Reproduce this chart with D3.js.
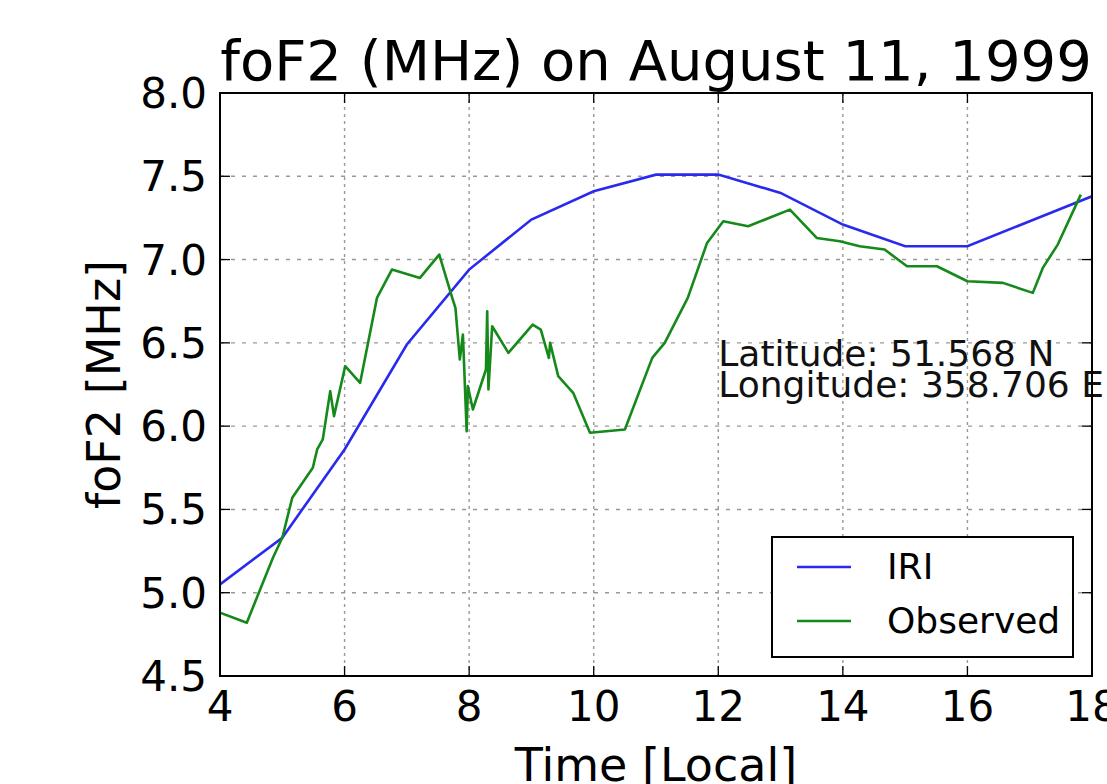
<!DOCTYPE html>
<html>
<head>
<meta charset="utf-8">
<script src="https://cdn.jsdelivr.net/npm/d3@7"></script>
<style>
  body { margin: 0; background: #fff; }
  svg { display: block; font-family: "DejaVu Sans", sans-serif; }
</style>
</head>
<body>
<div id="chart"></div>
<script>
// IRI model, hourly
var iriTime  = [4, 5, 6, 7, 8, 9, 10, 11, 12, 13, 14, 15, 16, 17, 18];
var iriValue = [5.05, 5.33, 5.86, 6.49, 6.94, 7.24, 7.41, 7.51, 7.51, 7.40, 7.21, 7.08, 7.08, 7.23, 7.38];

// observed foF2
var obsTime  = [4.0, 4.43, 4.85, 5.0, 5.16, 5.49, 5.56, 5.65, 5.77, 5.83, 6.01, 6.25, 6.52, 6.76, 7.21, 7.52,
                7.72, 7.78, 7.85, 7.90, 7.96, 7.98, 8.06, 8.27, 8.29, 8.31, 8.37, 8.63, 9.02, 9.15, 9.28, 9.30,
                9.43, 9.67, 9.94, 10.5, 10.94, 11.14, 11.51, 11.82, 12.08, 12.48, 13.15, 13.58, 13.95, 14.27,
                14.67, 15.03, 15.51, 16.0, 16.57, 17.05, 17.21, 17.45, 17.82];
var obsValue = [4.88, 4.82, 5.21, 5.33, 5.57, 5.75, 5.86, 5.92, 6.21, 6.06, 6.36, 6.26, 6.77, 6.94, 6.89, 7.03,
                6.78, 6.71, 6.40, 6.55, 5.97, 6.24, 6.10, 6.34, 6.69, 6.22, 6.60, 6.44, 6.61, 6.58, 6.41, 6.50,
                6.30, 6.20, 5.96, 5.98, 6.41, 6.50, 6.77, 7.10, 7.23, 7.20, 7.30, 7.13, 7.11, 7.08,
                7.06, 6.96, 6.96, 6.87, 6.86, 6.80, 6.95, 7.09, 7.39];

var xTicks = [4, 6, 8, 10, 12, 14, 16, 18];
var yTicks = [4.5, 5.0, 5.5, 6.0, 6.5, 7.0, 7.5, 8.0];
var seriesNames = ["IRI", "Observed"];
var infoLines = ["Latitude: 51.568 N", "Longitude: 358.706 E"];
var titleText = "foF2 (MHz) on August 11, 1999";

function drawChart() {
  var W = 1107, H = 784;
  var pl = 220, pr = 1092, pt = 93, pb = 676;

  var svg = d3.select("#chart").append("svg")
      .attr("width", W)
      .attr("height", H);

  var x = d3.scaleLinear().domain([4, 18]).range([pl, pr]);
  var y = d3.scaleLinear().domain([4.5, 8]).range([pb, pt]);

  svg.append("clipPath").attr("id", "plotclip")
    .append("rect")
      .attr("x", pl).attr("y", pt)
      .attr("width", pr - pl).attr("height", pb - pt);

  // grid (dotted, like matplotlib "k:")
  var grid = svg.append("g").attr("class", "grid");
  grid.selectAll(".vg")
      .data(xTicks.slice(1, -1))
      .enter().append("line")
      .attr("x1", function(d) { return x(d); })
      .attr("x2", function(d) { return x(d); })
      .attr("y1", pt).attr("y2", pb)
      .attr("stroke", "#999").attr("stroke-width", 1.4)
      .attr("stroke-dasharray", "3,4");
  grid.selectAll(".hg")
      .data(yTicks.slice(1, -1))
      .enter().append("line")
      .attr("y1", function(d) { return y(d); })
      .attr("y2", function(d) { return y(d); })
      .attr("x1", pl).attr("x2", pr)
      .attr("stroke", "#999").attr("stroke-width", 1.4)
      .attr("stroke-dasharray", "4,7");

  var line = d3.line()
      .x(function(d) { return x(d[0]); })
      .y(function(d) { return y(d[1]); });

  var iri = iriTime.map(function(t, i) { return [t, iriValue[i]]; });
  var obs = obsTime.map(function(t, i) { return [t, obsValue[i]]; });
  var colors = ["#2a2aee", "#15891a"];

  var lines = svg.append("g").attr("clip-path", "url(#plotclip)");
  lines.append("path")
      .attr("d", line(iri))
      .attr("fill", "none")
      .attr("stroke", colors[0])
      .attr("stroke-width", 2.6);
  lines.append("path")
      .attr("d", line(obs))
      .attr("fill", "none")
      .attr("stroke", colors[1])
      .attr("stroke-width", 2.6)
      .attr("stroke-linejoin", "round");

  // station annotation
  svg.append("g").selectAll("text")
      .data(infoLines)
      .enter().append("text")
      .attr("x", x(12))
      .attr("y", function(d, i) { return 366 + i * 31; })
      .style("font-size", "36px")
      .attr("fill", "#111")
      .text(function(d) { return d; });

  // inward ticks on all four sides
  var tickLen = 10;
  var ticks = svg.append("g").attr("stroke", "#000").attr("stroke-width", 1.3);
  xTicks.forEach(function(d) {
    ticks.append("line").attr("x1", x(d)).attr("x2", x(d)).attr("y1", pb).attr("y2", pb - tickLen);
    ticks.append("line").attr("x1", x(d)).attr("x2", x(d)).attr("y1", pt).attr("y2", pt + tickLen);
  });
  yTicks.forEach(function(d) {
    ticks.append("line").attr("y1", y(d)).attr("y2", y(d)).attr("x1", pl).attr("x2", pl + tickLen);
    ticks.append("line").attr("y1", y(d)).attr("y2", y(d)).attr("x1", pr).attr("x2", pr - tickLen);
  });

  // frame
  svg.append("rect")
      .attr("x", pl).attr("y", pt)
      .attr("width", pr - pl).attr("height", pb - pt)
      .attr("fill", "none")
      .attr("stroke", "#000")
      .attr("stroke-width", 2);

  // tick labels
  svg.append("g").selectAll("text")
      .data(xTicks)
      .enter().append("text")
      .attr("x", function(d) { return x(d); })
      .attr("y", 721)
      .attr("text-anchor", "middle")
      .style("font-size", "42px")
      .text(function(d) { return d; });

  svg.append("g").selectAll("text")
      .data(yTicks)
      .enter().append("text")
      .attr("x", pl - 13)
      .attr("y", function(d) { return y(d) + 15; })
      .attr("text-anchor", "end")
      .style("font-size", "42px")
      .text(function(d) { return d.toFixed(1); });

  // axis labels + title
  svg.append("text")
      .attr("x", (pl + pr) / 2)
      .attr("y", 781)
      .attr("text-anchor", "middle")
      .style("font-size", "46px")
      .text("Time [Local]");

  svg.append("text")
      .attr("transform", "translate(120," + ((pt + pb) / 2) + ") rotate(-90)")
      .attr("text-anchor", "middle")
      .style("font-size", "46px")
      .text("foF2 [MHz]");

  svg.append("text")
      .attr("x", (pl + pr) / 2)
      .attr("y", 80)
      .attr("text-anchor", "middle")
      .style("font-size", "56px")
      .text(titleText);

  // legend
  var lg = svg.append("g").attr("transform", "translate(772,537)");
  lg.append("rect")
      .attr("width", 301).attr("height", 120)
      .attr("fill", "#fff")
      .attr("stroke", "#000")
      .attr("stroke-width", 2);
  seriesNames.forEach(function(name, i) {
    var yy = 30 + i * 54;
    lg.append("line")
      .attr("x1", 25).attr("x2", 79)
      .attr("y1", yy).attr("y2", yy)
      .attr("stroke", colors[i]).attr("stroke-width", 2.6);
    lg.append("text")
      .attr("x", 115).attr("y", yy + 12)
      .style("font-size", "36px")
      .text(name);
  });
}

drawChart();
</script>
</body>
</html>
